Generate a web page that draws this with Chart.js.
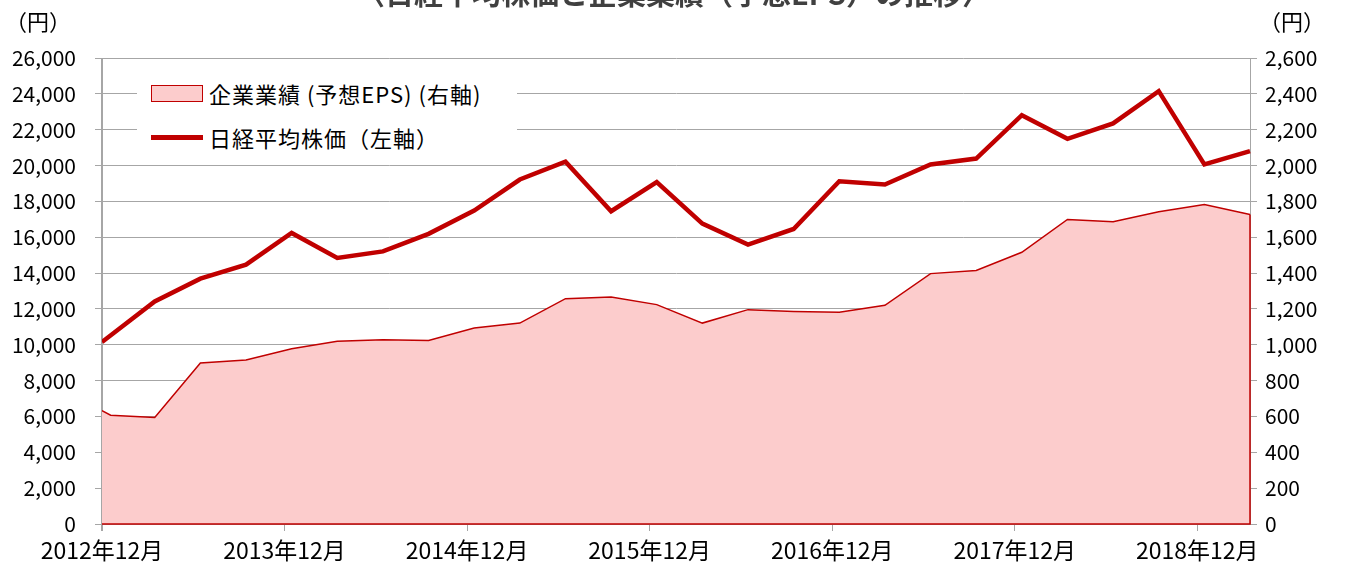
<!DOCTYPE html>
<html><head><meta charset="utf-8">
<script src="https://cdn.jsdelivr.net/npm/chart.js@4/dist/chart.umd.min.js"></script>
<style>
html,body{margin:0;padding:0;background:#fff;}
#wrap{position:relative;width:1347px;height:568px;overflow:hidden;font-family:'Noto Sans CJK JP',sans-serif;}
canvas{position:absolute;left:0;top:0;}
#title{position:absolute;left:0;width:1347px;top:-22px;text-align:center;font-weight:bold;font-size:29px;line-height:29px;color:#404040;white-space:nowrap;}
.unit{position:absolute;top:6px;font-size:22px;line-height:28px;color:#000;white-space:nowrap;}
#legend{position:absolute;left:137px;top:72px;width:380px;height:88px;background:#fff;}
.item{position:absolute;left:14px;height:30px;display:flex;align-items:center;font-size:22px;letter-spacing:1px;color:#000;white-space:nowrap;}
.mk{display:inline-block;width:52px;margin-right:6px;box-sizing:border-box;}
</style></head>
<body>
<div id="wrap">
  <canvas id="c" width="1347" height="568"></canvas>
  <div id="title"></div>
  <div class="unit" id="uL" style="left:5px;"></div>
  <div class="unit" id="uR" style="left:1259px;"></div>
  <div id="legend"></div>
</div>
<script>
// ---- data ----
const titleText = '〈日経平均株価と企業業績（予想EPS）の推移〉';
const unitText = '（円）';
const tickMonths = [0, 12, 24, 36, 48, 60, 72];
const tickLabels = ['2012年12月', '2013年12月', '2014年12月', '2015年12月', '2016年12月', '2017年12月', '2018年12月'];
const nikkeiLabel = '日経平均株価（左軸）';
const epsLabel = '企業業績 (予想EPS) (右軸)';
const nikkeiDates = ['2012/12/01','2013/03/15','2013/06/15','2013/09/15','2013/12/15','2014/03/15','2014/06/15','2014/09/15','2014/12/15','2015/03/15','2015/06/15','2015/09/15','2015/12/15','2016/03/15','2016/06/15','2016/09/15','2016/12/15','2017/03/15','2017/06/15','2017/09/15','2017/12/15','2018/03/15','2018/06/15','2018/09/15','2018/12/15','2019/03/15'];
const nikkeiValues = [10150, 12420, 13690, 14470, 16240, 14840, 15210, 16190, 17490, 19220, 20210, 17450, 19080, 16760, 15590, 16460, 19120, 18940, 20060, 20390, 22810, 21490, 22350, 24150, 20060, 20800];
const epsDates = ['2012/12/01','2012/12/18','2013/03/15','2013/06/15','2013/09/15','2013/12/15','2014/03/15','2014/06/15','2014/09/15','2014/12/15','2015/03/15','2015/06/15','2015/09/15','2015/12/15','2016/03/15','2016/06/15','2016/09/15','2016/12/15','2017/03/15','2017/06/15','2017/09/15','2017/12/15','2018/03/15','2018/06/15','2018/09/15','2018/12/15','2019/03/15'];
const epsValues = [633, 607, 594, 898, 915, 978, 1019, 1028, 1024, 1093, 1121, 1257, 1267, 1224, 1121, 1196, 1186, 1181, 1220, 1397, 1414, 1516, 1699, 1686, 1742, 1782, 1727];

// ---- helpers ----
function toMonth(s){ const [y,m,d] = s.split('/').map(Number); return (y-2012)*12 + (m-12) + (d-1)/30; }
const RED = '#C00000', PINK = 'rgb(252,204,204)', GRID = '#A6A6A6';
const FONT = "'Noto Sans CJK JP', sans-serif";

document.getElementById('title').textContent = titleText;
document.getElementById('uL').textContent = unitText;
document.getElementById('uR').textContent = unitText;

const edgePlugin = {
  id:'edge',
  afterDatasetsDraw(chart){
    const ctx = chart.ctx, meta = chart.getDatasetMeta(0), y2 = chart.scales.y2, ca = chart.chartArea;
    const pts = meta.data; const last = pts[pts.length-1], first = pts[0];
    const base = y2.getPixelForValue(0);
    ctx.save();
    ctx.strokeStyle = RED; ctx.lineWidth = 1.5;
    ctx.beginPath(); ctx.moveTo(last.x, last.y); ctx.lineTo(last.x, base); ctx.lineTo(first.x, base); ctx.stroke();
    ctx.strokeStyle = GRID; ctx.lineWidth = 1;
    ctx.beginPath(); ctx.moveTo(Math.round(ca.left)-0.5, ca.top); ctx.lineTo(Math.round(ca.left)-0.5, ca.bottom+7); ctx.stroke();
    ctx.restore();
  }
};

const chart = new Chart(document.getElementById('c'), {
  type:'line',
  data:{datasets:[
    {label:epsLabel, data:epsDates.map((d,i)=>({x:toMonth(d), y:epsValues[i]})), yAxisID:'y2',
     borderColor:RED, borderWidth:1.5, backgroundColor:PINK, fill:'origin', pointRadius:0, tension:0, order:1},
    {label:nikkeiLabel, data:nikkeiDates.map((d,i)=>({x:toMonth(d), y:nikkeiValues[i]})), yAxisID:'y',
     borderColor:RED, borderWidth:4.5, fill:false, pointRadius:0, tension:0, order:0, borderJoinStyle:'miter'}
  ]},
  options:{
    responsive:false, animation:false, devicePixelRatio:1,
    layout:{padding:{top:58, left:0, right:0, bottom:0}},
    plugins:{legend:{display:false}, tooltip:{enabled:false}, title:{display:false}},
    scales:{
      x:{type:'linear', bounds:'data', min:0,
         afterBuildTicks:s=>{ s.ticks = tickMonths.map(v=>({value:v})); },
         ticks:{autoSkip:false, maxRotation:0, padding:5, color:'#000', font:{family:FONT, size:23},
                callback:(v)=>tickLabels[tickMonths.indexOf(v)]},
         grid:{drawOnChartArea:false, drawTicks:true, tickLength:7, color:GRID},
         border:{color:GRID},
         afterFit:s=>{ s.height = 44; }},
      y:{position:'left', min:0, max:26000,
         ticks:{stepSize:2000, padding:19, color:'#000', font:{family:FONT, size:21},
                callback:v=>v.toLocaleString('en-US')},
         grid:{color:GRID, tickLength:7, drawTicks:true},
         border:{color:GRID},
         afterFit:s=>{ s.width = 102; }},
      y2:{position:'right', min:0, max:2600,
         ticks:{stepSize:200, padding:8, color:'#000', font:{family:FONT, size:21},
                callback:v=>v.toLocaleString('en-US')},
         grid:{drawOnChartArea:false, tickLength:7, color:GRID},
         border:{color:GRID},
         afterFit:s=>{ s.width = 97; }}
    }
  },
  plugins:[edgePlugin]
});

// legend built from datasets
const lg = document.getElementById('legend');
chart.data.datasets.forEach((ds, i)=>{
  const it = document.createElement('div'); it.className='item'; it.style.top = (i===0 ? 6 : 50) + 'px';
  const mk = document.createElement('span'); mk.className='mk';
  if (ds.fill) { mk.style.height='17px'; mk.style.background=ds.backgroundColor; mk.style.border='1.5px solid '+ds.borderColor; }
  else { mk.style.height='5px'; mk.style.background=ds.borderColor; }
  const tx = document.createElement('span'); tx.textContent = ds.label;
  it.appendChild(mk); it.appendChild(tx); lg.appendChild(it);
});
</script>
</body></html>
